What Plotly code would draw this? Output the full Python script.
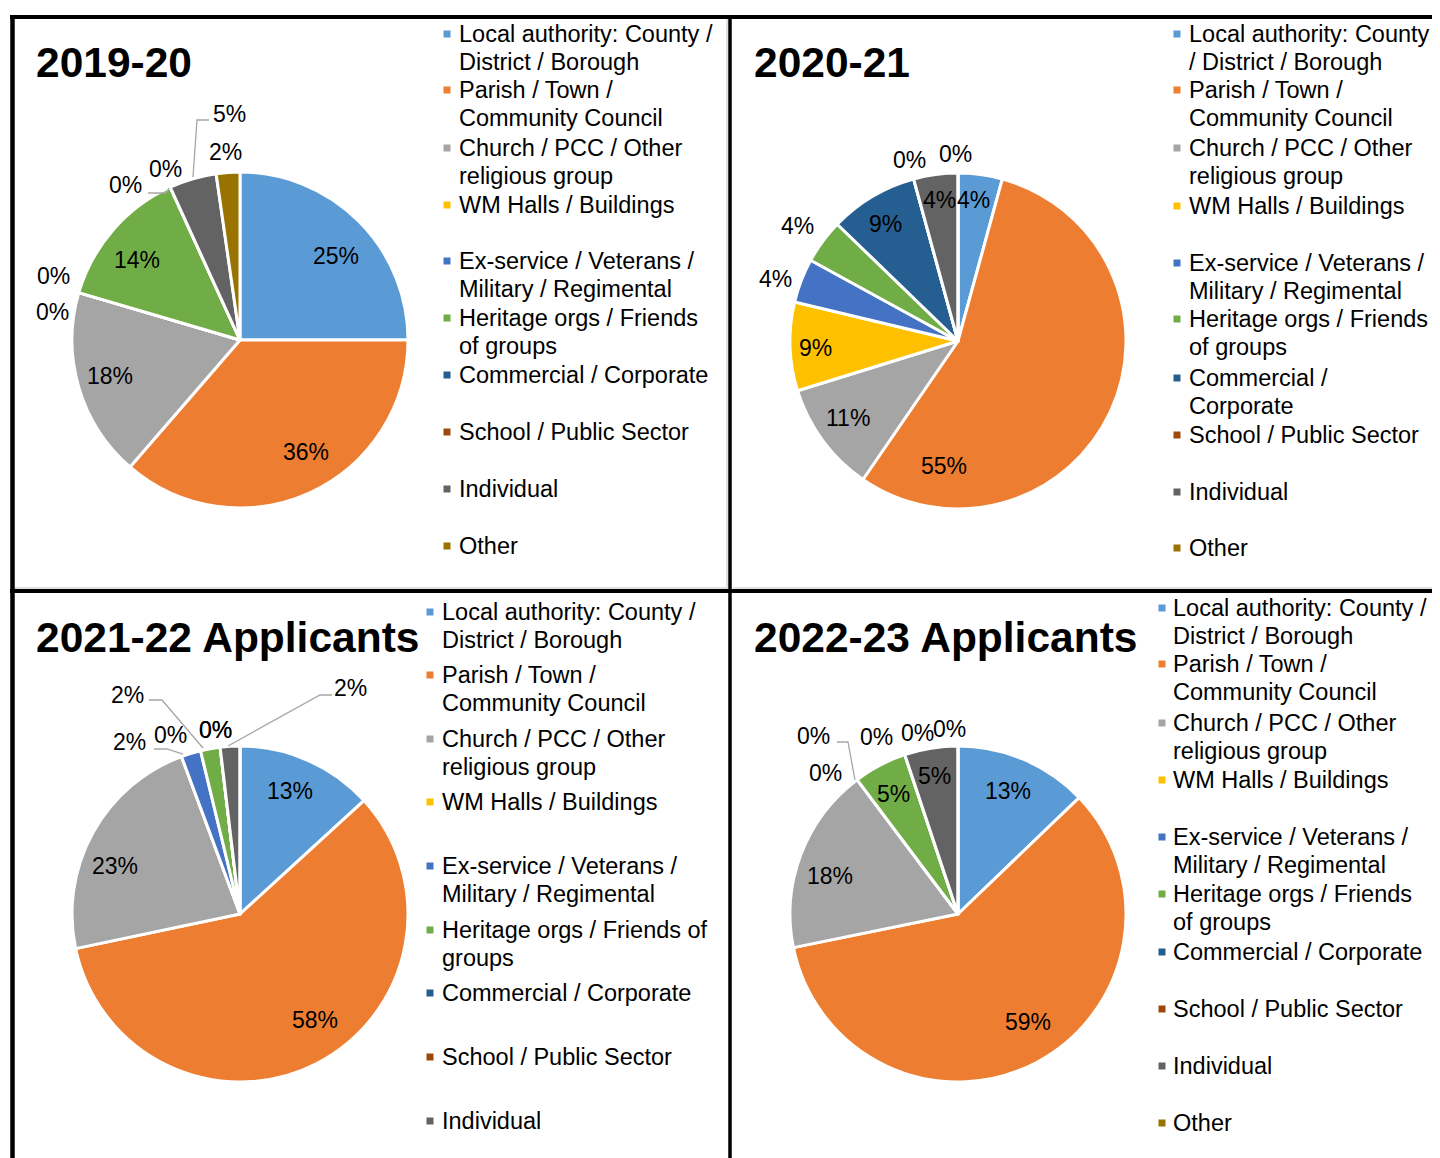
import plotly.graph_objects as go

# The page body has an 8px default margin, so the figure is drawn 8px smaller
# and every pixel position below (measured on the 1440x1158 page) is shifted.
OFF = 8
W, H = 1440 - OFF, 1158 - OFF
FONT = "Liberation Sans, Arial, sans-serif"
PAD = 2  # annotation inner padding for left-anchored text

# ---------------- data ----------------
categories = [
    "Local authority: County / District / Borough",
    "Parish / Town / Community Council",
    "Church / PCC / Other religious group",
    "WM Halls / Buildings",
    "Ex-service / Veterans / Military / Regimental",
    "Heritage orgs / Friends of groups",
    "Commercial / Corporate",
    "School / Public Sector",
    "Individual",
    "Other",
]
colors = ["#5B9BD5", "#ED7D31", "#A5A5A5", "#FFC000", "#4472C4",
          "#70AD47", "#255E91", "#9E480E", "#636363", "#997300"]

titles = ["2019-20", "2020-21", "2021-22 Applicants", "2022-23 Applicants"]
values_2019_20 = [11, 16, 8, 0, 0, 6, 0, 0, 2, 1]
values_2020_21 = [2, 26, 5, 4, 2, 2, 4, 0, 2, 0]
values_2021_22 = [7, 31, 12, 0, 1, 1, 0, 0, 1, 0]
values_2022_23 = [5, 23, 7, 0, 0, 2, 0, 0, 2, 0]
all_values = [values_2019_20, values_2020_21, values_2021_22, values_2022_23]

# legend wrapping per panel (display only)
wrap_default = [
    ["Local authority: County /", "District / Borough"],
    ["Parish / Town /", "Community Council"],
    ["Church / PCC / Other", "religious group"],
    ["WM Halls / Buildings"],
    ["Ex-service / Veterans /", "Military / Regimental"],
    ["Heritage orgs / Friends", "of groups"],
    ["Commercial / Corporate"],
    ["School / Public Sector"],
    ["Individual"],
    ["Other"],
]
wrap_p2 = list(wrap_default)
wrap_p2[0] = ["Local authority: County", "/ District / Borough"]
wrap_p2[6] = ["Commercial /", "Corporate"]
wrap_p3 = list(wrap_default)
wrap_p3[5] = ["Heritage orgs / Friends of", "groups"]
wraps = [wrap_default, wrap_p2, wrap_p3, wrap_default]

# ---------------- layout (page pixels) ----------------
pie_centers = [(240, 340), (958, 341), (240, 914), (958, 914)]
pie_r = 168
title_pos = [(36, 62), (754, 62), (36, 637), (754, 637)]
legend_x = [(447, 459), (1177, 1189), (430, 442), (1162, 1173)]
legend_y = [
    [34, 90, 148, 205, 261, 318, 375, 432, 489, 546],
    [34, 90, 148, 206, 263, 319, 378, 435, 492, 548],
    [612, 675, 739, 802, 866, 930, 993, 1057, 1121, None],
    [608, 664, 723, 780, 837, 894, 952, 1009, 1066, 1123],
]
legend_dy = 28
label_pos = [
    [(336, 256), (306, 452), (110, 376), (52, 312), (53, 276), (137, 260),
     (125, 185), (165, 169), (229, 114), (225, 152)],
    [(973, 200), (944, 466), (848, 418), (815, 348), (775, 279), (797, 226),
     (885, 224), (909, 160), (939, 200), (955, 154)],
    [(290, 791), (315, 1020), (115, 866), (170, 735), (130, 742), (127, 695),
     (215, 730), (215, 730), (350, 688), None],
    [(1008, 791), (1028, 1022), (830, 876), (825, 773), (813, 736), (893, 794),
     (877, 737), (917, 733), (934, 776), (950, 729)],
]
leaders = [
    [[(148, 193), (166, 193), (169, 188)], [(209, 120), (197, 120), (193, 177)]],
    [],
    [[(149, 700), (162, 700), (203, 748)], [(154, 749), (167, 749), (183, 754)],
     [(332, 695), (320, 695), (228, 746)]],
    [[(837, 742), (848, 742), (855, 780)]],
]


def px(x):
    return (x - OFF) / W


def py(y):
    return 1 - (y - OFF) / H


fig = go.Figure()
annotations = []
shapes = []

for i, vals in enumerate(all_values):
    cx, cy = pie_centers[i]
    fig.add_trace(go.Pie(
        labels=categories,
        values=vals,
        sort=False,
        direction="clockwise",
        rotation=0,
        textinfo="none",
        hoverinfo="label+percent",
        showlegend=False,
        marker=dict(colors=colors, line=dict(color="white", width=3)),
        domain=dict(x=[px(cx - pie_r), px(cx + pie_r)],
                    y=[py(cy + pie_r), py(cy - pie_r)]),
    ))
    total = sum(vals)
    # percentage labels
    for j, v in enumerate(vals):
        pos = label_pos[i][j]
        if pos is None:
            continue
        pct = int(v / total * 100 + 0.5)
        annotations.append(dict(
            x=px(pos[0]), y=py(pos[1]), xref="paper", yref="paper",
            text=f"{pct}%", showarrow=False, xanchor="center", yanchor="middle",
            font=dict(family=FONT, size=23, color="black")))
    # leader lines
    for pts in leaders[i]:
        path = "M " + " L ".join(f"{px(x):.5f},{py(y):.5f}" for x, y in pts)
        shapes.append(dict(type="path", path=path, xref="paper", yref="paper",
                           line=dict(color="#A6A6A6", width=1.3)))
    # title
    tx, ty = title_pos[i]
    annotations.append(dict(
        x=px(tx - PAD), y=py(ty), xref="paper", yref="paper",
        text=f"<b>{titles[i]}</b>",
        showarrow=False, xanchor="left", yanchor="middle",
        font=dict(family=FONT, size=42.5, color="black")))
    # legend
    mx, lx = legend_x[i]
    for j, lines in enumerate(wraps[i]):
        ly = legend_y[i][j]
        if ly is None:
            continue
        shapes.append(dict(type="rect", xref="paper", yref="paper",
                           x0=px(mx - 3.5), x1=px(mx + 3.5),
                           y0=py(ly + 3.5), y1=py(ly - 3.5),
                           fillcolor=colors[j], line=dict(width=0)))
        for k, line in enumerate(lines):
            annotations.append(dict(
                x=px(lx - PAD), y=py(ly + k * legend_dy), xref="paper", yref="paper",
                text=line, showarrow=False, xanchor="left", yanchor="middle",
                font=dict(family=FONT, size=23.5, color="black")))


# panel borders
def hline(y, x0, x1, color, w):
    shapes.append(dict(type="line", xref="paper", yref="paper",
                       x0=px(x0), x1=px(x1), y0=py(y), y1=py(y),
                       line=dict(color=color, width=w)))


def vline(x, y0, y1, color, w):
    shapes.append(dict(type="line", xref="paper", yref="paper",
                       x0=px(x), x1=px(x), y0=py(y0), y1=py(y1),
                       line=dict(color=color, width=w)))


hline(588, 14, 727, "#BFBFBF", 1)
hline(588, 733, 1440, "#BFBFBF", 1)
vline(727, 19, 589, "#BFBFBF", 1)
hline(17, 10, 1440, "black", 4)
hline(591, 10, 1440, "black", 4)
vline(12.5, 15, 1158, "black", 4.5)
vline(730, 15, 1158, "black", 3.5)

fig.update_layout(
    width=W, height=H,
    margin=dict(l=0, r=0, t=0, b=0),
    paper_bgcolor="white", plot_bgcolor="white",
    annotations=annotations, shapes=shapes,
    font=dict(family=FONT),
)

fig.write_html("out.html")
